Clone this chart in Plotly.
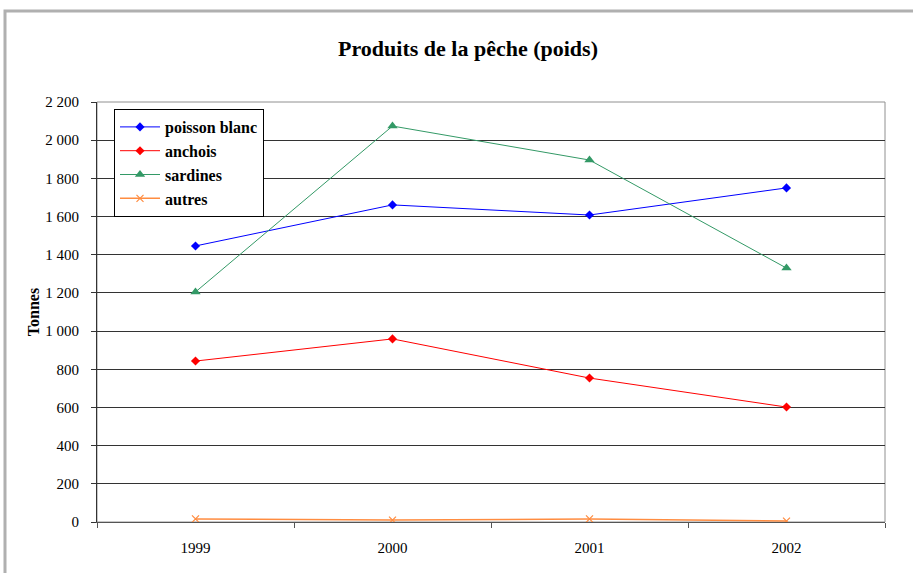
import plotly.graph_objects as go

years = ["1999", "2000", "2001", "2002"]
poisson_blanc = [1446, 1661, 1608, 1750]
anchois = [843, 959, 754, 602]
sardines = [1205, 2074, 1896, 1330]
autres = [16, 10, 16, 5]
y_ticks = [0, 200, 400, 600, 800, 1000, 1200, 1400, 1600, 1800, 2000, 2200]

W, H = 913, 573
L, R, T, B = 97, 885, 102, 522

serif = "Liberation Serif"

fig = go.Figure()
fig.add_trace(go.Scatter(x=years, y=poisson_blanc, name="poisson blanc", mode="lines+markers",
                         line=dict(color="#0000FF", width=1),
                         marker=dict(symbol="diamond", size=7, color="#0000FF")))
fig.add_trace(go.Scatter(x=years, y=anchois, name="anchois", mode="lines+markers",
                         line=dict(color="#FF0000", width=1),
                         marker=dict(symbol="diamond", size=7, color="#FF0000")))
fig.add_trace(go.Scatter(x=years, y=sardines, name="sardines", mode="lines+markers",
                         line=dict(color="#339966", width=1),
                         marker=dict(symbol="triangle-up", size=9, color="#339966")))
fig.add_trace(go.Scatter(x=years, y=autres, name="autres", mode="lines+markers",
                         line=dict(color="#FF8C40", width=1.5),
                         marker=dict(symbol="x-thin", size=7, line=dict(color="#FF8C40", width=1.2))))

pw, ph = R - L, B - T
def px(x):
    return (x - L) / pw
def py(y):
    return (B - y) / ph

fig.update_layout(
    width=W, height=H,
    margin=dict(l=L, r=W - R, t=T, b=H - B),
    paper_bgcolor="white", plot_bgcolor="white",
    separators=", ",
    font=dict(family=serif, color="black", size=14),
    title=dict(text="<b>Produits de la pêche (poids)</b>", x=468 / W, xanchor="center",
               y=1 - 48 / H, yanchor="middle", font=dict(family=serif, size=22, color="black")),
    showlegend=True,
    legend=dict(x=px(114), y=py(109), xanchor="left", yanchor="top",
                bgcolor="white", bordercolor="black", borderwidth=1,
                font=dict(family=serif, size=16, color="black", weight="bold"),
                itemwidth=40, tracegroupgap=0),
    xaxis=dict(type="category", range=[-0.5, 3.5], tickson="boundaries",
               ticks="outside", ticklen=5, tickcolor="#555",
               showline=True, linecolor="#555", linewidth=1,
               showgrid=False, tickfont=dict(family=serif, size=15),
               ticklabelstandoff=12, fixedrange=True),
    yaxis=dict(range=[0, 2200], tickmode="array", tickvals=y_ticks,
               tickformat=",d", ticks="outside", ticklen=5, tickcolor="#333",
               showline=True, linecolor="#333", linewidth=1,
               showgrid=True, gridcolor="#333", gridwidth=1, zeroline=False,
               tickfont=dict(family=serif, size=15), ticklabelstandoff=9,
               title=dict(text="<b>Tonnes</b>", font=dict(family=serif, size=16), standoff=1)),
    shapes=[
        dict(type="rect", xref="paper", yref="paper", x0=0, x1=1, y0=0, y1=1,
             line=dict(color="#909090", width=1), layer="below"),
        dict(type="rect", xref="paper", yref="paper", x0=px(5), x1=px(925), y0=py(590), y1=py(11),
             line=dict(color="#B0B0B0", width=3)),
    ],
)

fig.write_html("out.html", config={"displayModeBar": False},
               post_script="document.body.style.margin='0px';document.body.style.overflow='hidden';")
